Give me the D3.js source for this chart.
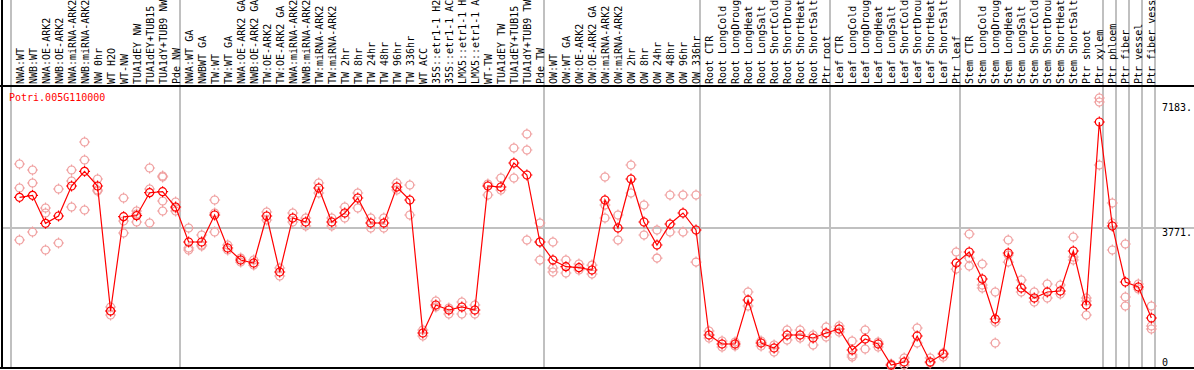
<!DOCTYPE html>
<html>
<head>
<meta charset="utf-8">
<script src="https://cdn.jsdelivr.net/npm/d3@7"></script>
<style>
  body { margin: 0; background: #fff; }
  svg { display: block; font-family: "DejaVu Sans Mono", monospace; }
</style>
</head>
<body>
<script>
const geneName = "Potri.005G110000";

const sampleLabels = [
  "NWA:WT", "NWB:WT", "NWA:OE-ARK2", "NWB:OE-ARK2", "NWA:miRNA-ARK2", "NWB:miRNA-ARK2", "NW 0hr", "WT H2O", "WT-NW",
  "TUA1dEY NW", "TUA1dEY+TUB15 NW", "TUA1dY+TUB9 NW", "Pde NW",
  "NWA:WT GA", "NWBWT GA", "TW:WT", "TW:WT GA", "NWA:OE-ARK2 GA", "NWB:OE-ARK2 GA", "TW:OE-ARK2", "TW:OE-ARK2 GA",
  "NWA:miRNA-ARK2 GA", "NWB:miRNA-ARK2 GA", "TW:miRNA-ARK2", "TW:miRNA-ARK2 GA", "TW 2hr", "TW 8hr", "TW 24hr", "TW 48hr",
  "TW 96hr", "TW 336hr", "WT ACC", "35S::etr1-1 H2O", "35S::etr1-1 ACC", "LMX5::etr1-1 H2O", "LMX5::etr1-1 ACC", "WT-TW",
  "TUA1dEY TW", "TUA1dEY+TUB15 TW", "TUA1dY+TUB9 TW", "Pde TW",
  "OW:WT", "OW:WT GA", "OW:OE-ARK2", "OW:OE-ARK2 GA", "OW:miRNA-ARK2", "OW:miRNA-ARK2 GA", "OW 2hr", "OW 8hr", "OW 24hr",
  "OW 48hr", "OW 96hr", "OW 336hr",
  "Root CTR", "Root LongCold", "Root LongDrought", "Root LongHeat", "Root LongSalt", "Root ShortCold", "Root ShortDrought",
  "Root ShortHeat", "Root ShortSalt", "Ptr root",
  "Leaf CTR", "Leaf LongCold", "Leaf LongDrought", "Leaf LongHeat", "Leaf LongSalt", "Leaf ShortCold", "Leaf ShortDrought",
  "Leaf ShortHeat", "Leaf ShortSalt", "Ptr leaf",
  "Stem CTR", "Stem LongCold", "Stem LongDrought", "Stem LongHeat", "Stem LongSalt", "Stem ShortCold", "Stem ShortDrought",
  "Stem ShortHeat", "Stem ShortSalt", "Ptr shoot", "Ptr xylem",
  "Ptr phloem", "Ptr fiber", "Ptr vessel", "Ptr fiber vessel"
];

// index of the first sample of each block (a grey separator is drawn there)
const groupStarts = [0, 13, 41, 53, 63, 73, 84, 85, 86, 87, 88];

// mean expression per sample
const meanValues = [
  4609, 4664, 3900, 4099, 4918, 5319, 4918, 1506, 4080, 4107, 4735, 4762, 4345,
  3389, 3389, 4126, 3226, 2898, 2816, 4099, 2571, 4044, 3935, 4863, 3935, 4181, 4590, 3908, 3908,
  4890, 4536, 906, 1670, 1534, 1616, 1534, 4918, 4890, 5545, 5218, 3389,
  2898, 2715, 2688, 2625, 4536, 3771, 5109, 3935, 3308, 3881, 4181, 3717,
  851, 606, 606, 1807, 633, 497, 851, 851, 770, 906,
  1015, 442, 742, 606, 33, 115, 824, 115, 333, 2816,
  3116, 2380, 1288, 3089, 2134, 1861, 2025, 2052, 3144, 1670, 6664,
  3826, 2298, 2161, 1315
];

// replicate values per sample
const replicateValues = [
  [5518, 4863, 3444], [5354, 5000, 3662], [4317, 4181, 3171], [4836, 3362], [5354, 5054, 4345],
  [6118, 5627, 4263], [5109, 4809, 4781], [1616, 1506, 1397], [4590, 3963, 3635], [4236, 4154, 3935],
  [5409, 4836, 3908], [5191, 5163, 4508, 4236], [4481, 4317, 4236],
  [3771, 3226, 3171], [3580, 3308, 3280], [4536, 4181, 3662], [3308, 3171], [2952, 2843], [2898, 2761],
  [4208, 3990], [2680, 2462], [4181, 3935], [4044, 3826], [5000, 4727], [4044, 3826], [4345, 4044],
  [4727, 4317], [4044, 3771], [4044, 3771], [5000, 4809], [4945, 4126], [988, 824], [1779, 1616],
  [1588, 1424], [1752, 1424], [1670, 1424], [4972, 4672], [5136, 4809], [5955, 5136], [6337, 5900, 3444],
  [3908, 3389, 2898],
  [3389, 2680, 2571], [2898, 2543], [2789, 2625], [2761, 2516], [5163, 4399, 4044], [4126, 3444],
  [5491, 4727], [4399, 3580], [3717, 2952], [4672, 3662], [4672, 3662], [4672, 2843],
  [961, 770], [688, 524], [661, 551], [2025, 1643], [688, 551], [579, 388], [988, 715], [988, 770],
  [851, 579], [1070, 797],
  [1097, 933], [688, 306, 251], [988, 470], [661, 524], [60, 5], [224, 33], [1043, 633], [224, 87],
  [360, 251], [3116, 2652],
  [3608, 2952, 2734], [2789, 2216, 2134], [2025, 1206, 633], [3444, 3035, 2843], [2352, 2025],
  [2025, 1752], [2243, 1861], [2216, 1970], [3526, 2980, 2898], [1861, 1779, 1397], [7319, 7210, 5491],
  [4454, 3908, 3171], [3335, 1888, 1643], [2243, 2107], [1643, 1097, 1015]
];

const yTicks = [0, 3771, 7183];

(() => {
  const width = 1194;
  const height = 370;
  const headerBottom = 86;
  const plotBottom = 368;

  const samples = sampleLabels.map((label, i) => ({
    i, label, mean: meanValues[i], reps: replicateValues[i]
  }));

  const x = d3.scaleBand()
    .domain(d3.range(sampleLabels.length + 1))
    .range([10.5, 10.5 + 13.01 * (sampleLabels.length + 1)])
    .padding(0);
  const cx = i => x(i) + 9;

  const y = d3.scaleLinear()
    .domain([0, 7183])
    .range([366.2, 103]);

  const svg = d3.create("svg")
    .attr("width", width)
    .attr("height", height)
    .attr("viewBox", [0, 0, width, height]);

  // group separators
  svg.append("g")
    .attr("shape-rendering", "crispEdges")
    .selectAll("line")
    .data(groupStarts)
    .join("line")
    .attr("x1", d => Math.round(x(d)))
    .attr("x2", d => Math.round(x(d)))
    .attr("y1", 0)
    .attr("y2", plotBottom)
    .attr("stroke", "#c0c0c0")
    .attr("stroke-width", 2);

  // reference line
  svg.append("line")
    .attr("shape-rendering", "crispEdges")
    .attr("x1", 1).attr("x2", width)
    .attr("y1", Math.round(y(3771))).attr("y2", Math.round(y(3771)))
    .attr("stroke", "#c0c0c0")
    .attr("stroke-width", 2);

  // frame
  const frame = svg.append("g").attr("shape-rendering", "crispEdges").attr("stroke", "#000").attr("stroke-width", 2);
  frame.append("line").attr("x1", 0).attr("x2", width).attr("y1", headerBottom).attr("y2", headerBottom);
  frame.append("line").attr("x1", 0).attr("x2", width).attr("y1", plotBottom).attr("y2", plotBottom);
  frame.append("line").attr("x1", 2).attr("x2", 2).attr("y1", 0).attr("y2", plotBottom);

  // sample labels, rotated
  svg.append("g")
    .selectAll("text")
    .data(samples)
    .join("text")
    .attr("transform", d => `translate(${cx(d.i) + 4},84) rotate(-90)`)
    .attr("font-size", 10)
    .attr("fill", "#000")
    .text(d => d.label);

  // right axis labels
  svg.append("g")
    .selectAll("text")
    .data(yTicks)
    .join("text")
    .attr("x", 1162)
    .attr("y", d => Math.min(y(d), 358))
    .attr("dy", "0.8em")
    .attr("font-size", 10)
    .attr("fill", "#000")
    .text(d => d === 0 ? "0" : d + ".");

  svg.append("text")
    .attr("x", 9)
    .attr("y", 101)
    .attr("font-size", 10)
    .attr("fill", "#ff0000")
    .text(geneName);

  const marker = (g, color) => {
    g.append("circle").attr("r", 4).attr("fill", "none").attr("stroke", color).attr("stroke-width", 1.2);
    g.append("path")
      .attr("d", "M0,-5.5V-3.6M0,3.6V5.5M-5.5,0H-3.6M3.6,0H5.5")
      .attr("stroke", color).attr("stroke-width", 1.2);
  };

  // replicates
  const repData = samples.flatMap(d => d.reps.map(v => ({ i: d.i, v })));
  svg.append("g")
    .selectAll("g")
    .data(repData)
    .join("g")
    .attr("transform", d => `translate(${cx(d.i)},${y(d.v)})`)
    .each(function() { marker(d3.select(this), "#f0a0a0"); });

  // mean line
  const line = d3.line()
    .x(d => cx(d.i))
    .y(d => y(d.mean));
  svg.append("path")
    .datum(samples)
    .attr("fill", "none")
    .attr("stroke", "#ff0000")
    .attr("stroke-width", 1.2)
    .attr("d", line);

  svg.append("g")
    .selectAll("g")
    .data(samples)
    .join("g")
    .attr("transform", d => `translate(${cx(d.i)},${y(d.mean)})`)
    .each(function() { marker(d3.select(this), "#ff0000"); });

  d3.select("body").append(() => svg.node());
})();
</script>
</body>
</html>
